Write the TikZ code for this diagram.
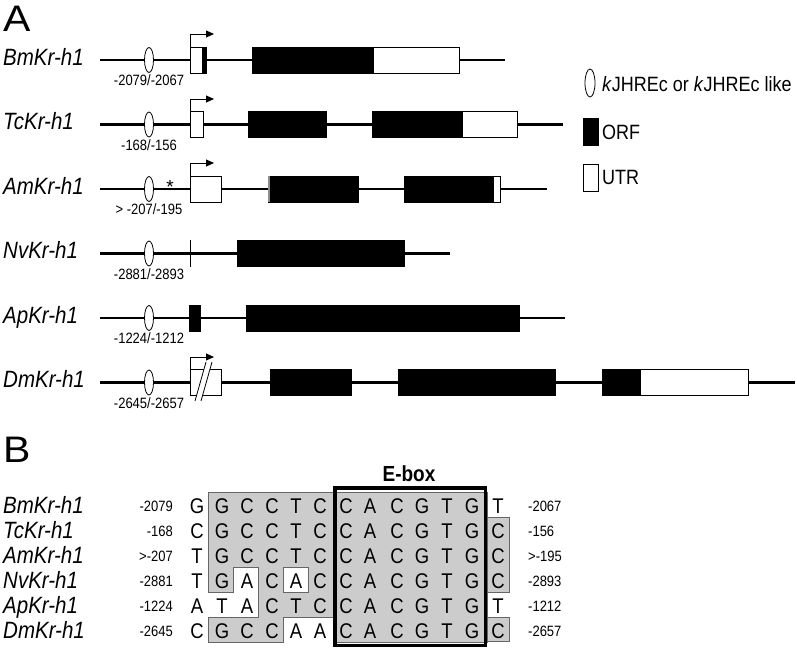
\documentclass[tikz,border=0pt]{standalone}
\usepackage{fontspec}
\setmainfont{Liberation Sans}
\usetikzlibrary{arrows.meta}
\usetikzlibrary{shapes.geometric}

\tikzset{
  backbone/.style={line width=2.3pt},
  orfbox/.style={fill=black, draw=black, line width=0.6pt},
  utrbox/.style={fill=white, draw=black, line width=0.8pt},
  tss/.style={line width=0.9pt, -{Triangle[length=8pt,width=7pt]}},
  jhre/.style={ellipse, draw, fill=white, line width=0.8pt, inner sep=0pt, minimum width=9pt, minimum height=25pt},
  genename/.style={anchor=base west, inner sep=0pt, yscale=1.15, font=\fontsize{20.5}{24}\selectfont\itshape},
  poslbl/.style={inner sep=0pt, yscale=1.15, font=\fontsize{13}{15}\selectfont},
  nt/.style={anchor=base, inner sep=0pt, yscale=1.15, font=\fontsize{18.5}{22}\selectfont},
  keytxt/.style={anchor=base west, inner sep=0pt, yscale=1.15, font=\fontsize{18}{22}\selectfont},
  eboxlbl/.style={anchor=base, inner sep=0pt, yscale=1.15, font=\fontsize{19}{22}\selectfont\bfseries},
  panel/.style={anchor=base west, inner sep=0pt, yscale=0.9, font=\fontsize{41}{44}\selectfont},
  consblk/.style={fill=black!20, draw=black!60, line width=0.7pt},
  astx/.style={anchor=base, inner sep=0pt, font=\fontsize{19}{21}\selectfont}
}

\def\colx{{197,222,247,272,296,320,346,370,397,422,447,472,498}}

\begin{document}
\begin{tikzpicture}[x=1pt, y=-1pt]
  \useasboundingbox (0,0) rectangle (797,651);

  \node[panel] (labA) at (3,31) {A};
  \node[panel] (labB) at (3,462) {B};

  % BmKr-h1
  \node[genename] (bm) at (3,65) {BmKr-h1};
  \draw[backbone] (100,60) -- (505,60);
  \node[jhre, label={[poslbl, label distance=1.5pt]below:-2079/-2067}] (bmRE) at (149,60) {};
  \draw[utrbox] (190,47) rectangle (206,73);
  \fill (202,47) rectangle (206,73);
  \draw[orfbox] (252,47) rectangle (373,73);
  \draw[utrbox] (373,47) rectangle (459,73);
  \draw[tss] (190,47) -- (190,34) -- (214,34);

  % TcKr-h1
  \node[genename] (tc) at (3,129.5) {TcKr-h1};
  \draw[backbone] (100,124.5) -- (563,124.5);
  \node[jhre, label={[poslbl, label distance=1.5pt]below:-168/-156}] (tcRE) at (149,124.5) {};
  \draw[utrbox] (190,111.5) rectangle (203,137.5);
  \draw[orfbox] (248,111.5) rectangle (326,137.5);
  \draw[orfbox] (372,111.5) rectangle (462,137.5);
  \draw[utrbox] (462,111.5) rectangle (517,137.5);
  \draw[tss] (190,111.5) -- (190,99) -- (214,99);

  % AmKr-h1
  \node[genename] (am) at (3,194) {AmKr-h1};
  \draw[backbone] (100,189) -- (547,189);
  \node[jhre, label={[poslbl, label distance=1.5pt]below:> -207/-195}] (amRE) at (149,189) {};
  \node[astx] (amStar) at (170,193) {*};
  \draw[utrbox] (190,176) rectangle (221,202);
  \draw[orfbox] (268,176) rectangle (358,202);
  \fill[black!45] (268.4,176.4) rectangle (270.4,201.6);
  \draw[orfbox] (404,176) rectangle (493,202);
  \draw[utrbox] (493,176) rectangle (500,202);
  \draw[tss] (190,176) -- (190,163) -- (214,163);

  % NvKr-h1
  \node[genename] (nv) at (3,258.5) {NvKr-h1};
  \draw[backbone] (100,253.5) -- (450,253.5);
  \node[jhre, label={[poslbl, label distance=1.5pt]below:-2881/-2893}] (nvRE) at (149,253.5) {};
  \draw[line width=1.2pt] (190.5,240) -- (190.5,267);
  \draw[orfbox] (237,240.5) rectangle (404,266.5);

  % ApKr-h1
  \node[genename] (ap) at (3,323) {ApKr-h1};
  \draw[backbone] (100,318) -- (565,318);
  \node[jhre, label={[poslbl, label distance=1.5pt]below:-1224/-1212}] (apRE) at (149,318) {};
  \draw[orfbox] (189,305) rectangle (200,331);
  \draw[orfbox] (246,305) rectangle (519,331);

  % DmKr-h1
  \node[genename] (dm) at (3,387.5) {DmKr-h1};
  \draw[backbone] (100,382.5) -- (795,382.5);
  \node[jhre, label={[poslbl, label distance=1.5pt]below:-2645/-2657}] (dmRE) at (149,382.5) {};
  \draw[utrbox] (190,369.5) rectangle (221,395.5);
  \draw[tss] (190,369.5) -- (190,357) -- (214,357);
  \fill[white] (195,401) -- (206,362) -- (212,362) -- (201,401) -- cycle;
  \draw[line width=0.8pt] (195,401) -- (206,362);
  \draw[line width=0.8pt] (201,401) -- (212,362);
  \draw[orfbox] (270,369.5) rectangle (351,395.5);
  \draw[orfbox] (398,369.5) rectangle (555,395.5);
  \draw[orfbox] (602,369.5) rectangle (640,395.5);
  \draw[utrbox] (640,369.5) rectangle (748,395.5);

  % key
  \node[jhre, minimum width=10pt, minimum height=28pt] (keyRE) at (590,83) {};
  \node[keytxt] (keyREtxt) at (602,91) {\textit{k}JHREc or \textit{k}JHREc like};
  \draw[orfbox] (583,118) rectangle (598,145);
  \node[keytxt] (keyORF) at (602,139) {ORF};
  \draw[utrbox] (583,164) rectangle (598,191);
  \node[keytxt] (keyUTR) at (602,184) {UTR};

  % B: alignment
  \draw[consblk] (208,492) -- (487,492) -- (487,642) -- (333,642) -- (333,617)
    -- (283,617) -- (283,642) -- (208,642) -- (208,617) -- (258,617) -- (258,567)
    -- (233,567) -- (233,592) -- (208,592) -- cycle;
  \draw[consblk] (487,517) rectangle (509,592);
  \draw[consblk] (487,617) rectangle (509,641);
  \draw[fill=white, draw=black!60, line width=0.7pt] (283,567) rectangle (308,592);
  \draw[line width=3.5pt] (334.75,487.75) rectangle (485.25,645.25);
  \node[eboxlbl] (ebox) at (409,481) {E-box};

  \foreach \seq [count=\r] in {{G,G,C,C,T,C,C,A,C,G,T,G,T},{C,G,C,C,T,C,C,A,C,G,T,G,C},
      {T,G,C,C,T,C,C,A,C,G,T,G,C},{T,G,A,C,A,C,C,A,C,G,T,G,C},
      {A,T,A,C,T,C,C,A,C,G,T,G,T},{C,G,C,C,A,A,C,A,C,G,T,G,C}} {
    \foreach \b [count=\c] in \seq {
      \pgfmathsetmacro{\bx}{\colx[\c-1]}
      \node[nt] (n\r-\c) at (\bx,{488.5+25*\r}) {\b};
    }
  }

  \foreach \g/\lo/\hi [count=\r] in {Bm/-2079/-2067, Tc/-168/-156, Am/>-207/>-195,
      Nv/-2881/-2893, Ap/-1224/-1212, Dm/-2645/-2657} {
    \node[genename] (b\g) at (3,{488+25*\r}) {\g Kr-h1};
    \node[poslbl, anchor=base east] (lo\g) at (173,{486.5+25*\r}) {\lo};
    \node[poslbl, anchor=base west] (hi\g) at (528,{486.5+25*\r}) {\hi};
  }
\end{tikzpicture}
\end{document}
